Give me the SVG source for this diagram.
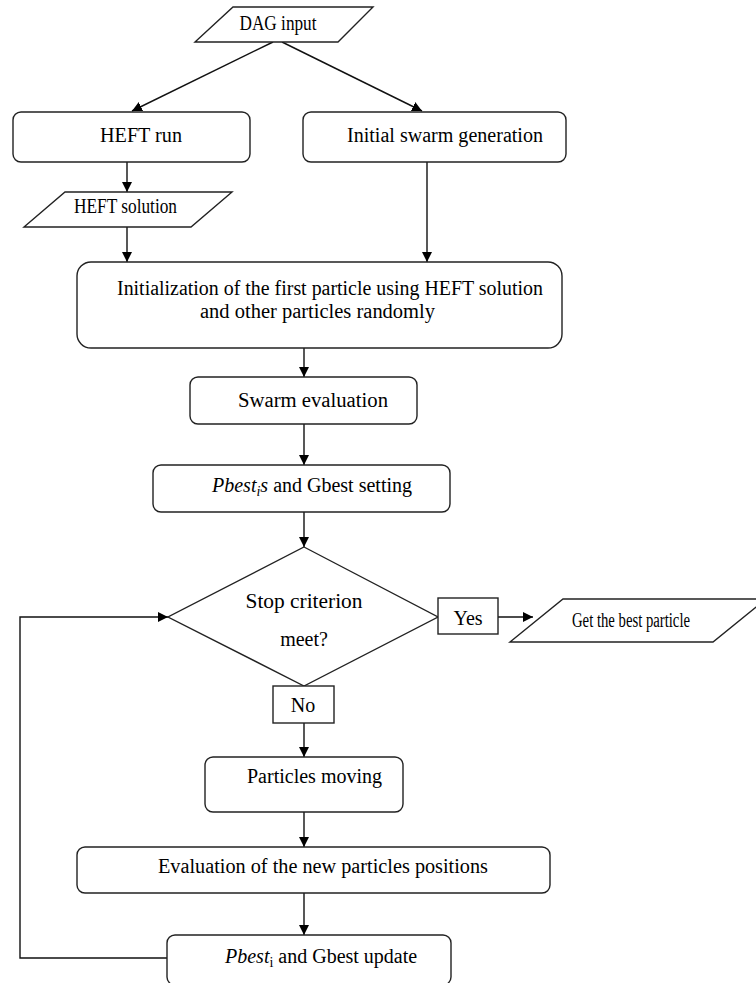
<svg xmlns="http://www.w3.org/2000/svg" width="756" height="983" viewBox="0 0 756 983">
<style>
.n{fill:#fff;stroke:#222;stroke-width:1.4}
.t{font-family:"Liberation Serif","Times New Roman",serif;font-size:20px;fill:#000}
.c{fill:none;stroke:#111;stroke-width:1.4}
</style>
<defs>
<marker id="ah" viewBox="0 0 10 10" refX="10" refY="5" markerWidth="10" markerHeight="10" markerUnits="userSpaceOnUse" orient="auto">
<path d="M0,0 L10,5 L0,10 z" fill="#000"/>
</marker>
</defs>
<rect width="756" height="983" fill="#fff"/>
<g id="connectors">
<line class="c" x1="273" y1="42" x2="132" y2="111" marker-end="url(#ah)"/>
<line class="c" x1="282" y1="42" x2="422" y2="111" marker-end="url(#ah)"/>
<line class="c" x1="127" y1="162" x2="127" y2="192" marker-end="url(#ah)"/>
<line class="c" x1="127" y1="227" x2="127" y2="262" marker-end="url(#ah)"/>
<line class="c" x1="427" y1="162" x2="427" y2="262" marker-end="url(#ah)"/>
<line class="c" x1="304" y1="348" x2="304" y2="377" marker-end="url(#ah)"/>
<line class="c" x1="304" y1="424" x2="304" y2="465" marker-end="url(#ah)"/>
<line class="c" x1="304" y1="512" x2="304" y2="547" marker-end="url(#ah)"/>
<line class="c" x1="498" y1="617" x2="533" y2="617" marker-end="url(#ah)"/>
<line class="c" x1="304" y1="723" x2="304" y2="757" marker-end="url(#ah)"/>
<line class="c" x1="304" y1="812" x2="304" y2="847" marker-end="url(#ah)"/>
<line class="c" x1="304" y1="893" x2="304" y2="935" marker-end="url(#ah)"/>
<polyline class="c" points="167,958 20,958 20,617 168,617" marker-end="url(#ah)"/>
</g>
<g id="dag-input">
<polygon class="n" points="233,7 373,7 338,42 195,42"/>
<text class="t" x="278" y="30" font-size="16" text-anchor="middle" textLength="77" lengthAdjust="spacingAndGlyphs">DAG input</text>
</g>
<g id="heft-run">
<rect class="n" x="13" y="112" width="237" height="50" rx="8"/>
<text class="t" x="100" y="142" textLength="82" lengthAdjust="spacingAndGlyphs">HEFT run</text>
</g>
<g id="initial-swarm">
<rect class="n" x="303" y="112" width="263" height="50" rx="8"/>
<text class="t" x="347" y="142" textLength="196" lengthAdjust="spacingAndGlyphs">Initial swarm generation</text>
</g>
<g id="heft-solution">
<polygon class="n" points="65,192 232,192 191,227 24,227"/>
<text class="t" x="74" y="213" font-size="16" textLength="103" lengthAdjust="spacingAndGlyphs">HEFT solution</text>
</g>
<g id="initialization">
<rect class="n" x="77" y="262" width="485" height="86" rx="14"/>
<text class="t" x="117" y="295" textLength="426" lengthAdjust="spacingAndGlyphs">Initialization of the first particle using HEFT solution</text>
<text class="t" x="200" y="318" textLength="235" lengthAdjust="spacingAndGlyphs">and other particles randomly</text>
</g>
<g id="swarm-evaluation">
<rect class="n" x="190" y="377" width="227" height="47" rx="8"/>
<text class="t" x="238" y="407" textLength="150" lengthAdjust="spacingAndGlyphs">Swarm evaluation</text>
</g>
<g id="pbest-setting">
<rect class="n" x="153" y="465" width="297" height="47" rx="8"/>
<text class="t" x="212" y="492"><tspan font-style="italic">Pbest</tspan><tspan font-style="italic" font-size="14" dy="4">i</tspan><tspan font-style="italic" dy="-4">s</tspan> and Gbest setting</text>
</g>
<g id="stop-criterion">
<polygon class="n" points="304,547 438,617 304,686 168,617"/>
<text class="t" x="304" y="608" text-anchor="middle" textLength="117" lengthAdjust="spacingAndGlyphs">Stop criterion</text>
<text class="t" x="304" y="646" text-anchor="middle">meet?</text>
</g>
<g id="yes-label">
<rect class="n" x="438" y="598" width="60" height="36"/>
<text class="t" x="468" y="625" text-anchor="middle">Yes</text>
</g>
<g id="get-best">
<polygon class="n" points="563,599 766,599 713,642 510,642"/>
<text class="t" x="572" y="627" font-size="14" textLength="118" lengthAdjust="spacingAndGlyphs">Get the best particle</text>
</g>
<g id="no-label">
<rect class="n" x="273" y="686" width="61" height="37"/>
<text class="t" x="303" y="712" text-anchor="middle">No</text>
</g>
<g id="particles-moving">
<rect class="n" x="205" y="757" width="198" height="55" rx="8"/>
<text class="t" x="247" y="783" textLength="135" lengthAdjust="spacingAndGlyphs">Particles moving</text>
</g>
<g id="evaluation-new">
<rect class="n" x="77" y="847" width="473" height="46" rx="8"/>
<text class="t" x="158" y="873" textLength="330" lengthAdjust="spacingAndGlyphs">Evaluation of the new particles positions</text>
</g>
<g id="pbest-update">
<rect class="n" x="167" y="935" width="284" height="50" rx="8"/>
<text class="t" x="225" y="963"><tspan font-style="italic">Pbest</tspan><tspan font-size="14" dy="4">i</tspan><tspan dy="-4"> and Gbest update</tspan></text>
</g>
</svg>
